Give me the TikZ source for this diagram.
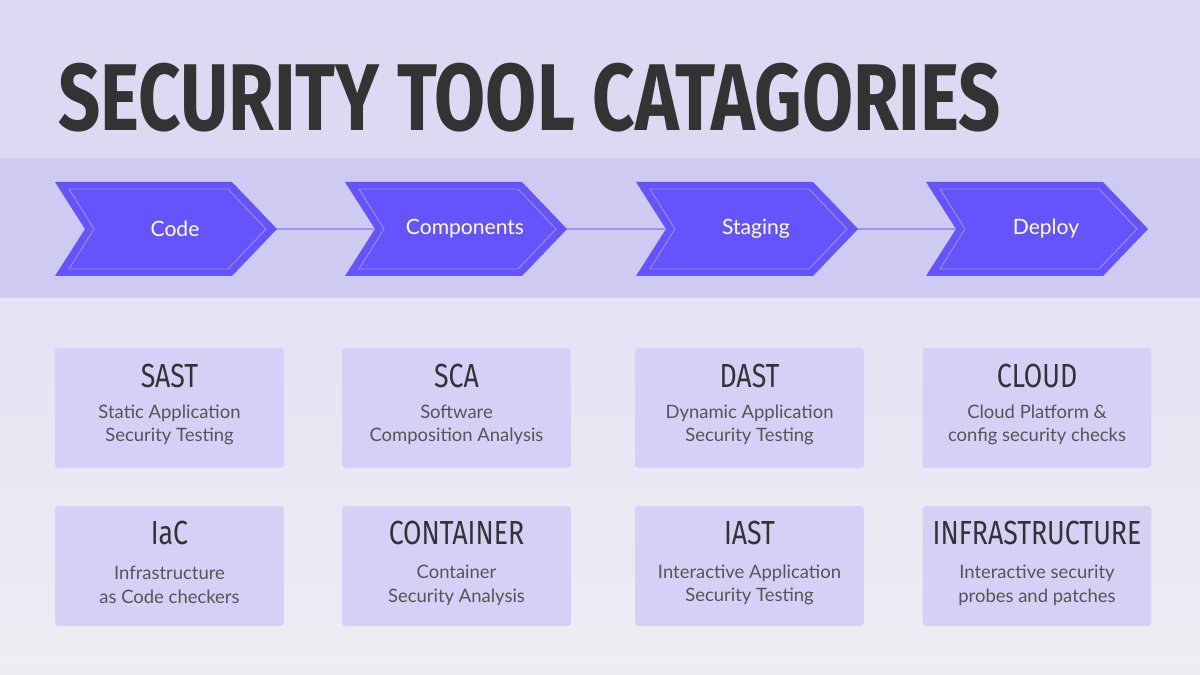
\documentclass[tikz,border=0pt]{standalone}
\usepackage{fontspec}
\setmainfont{Lato}
\newfontfamily\headfont{Fira Sans}
\usetikzlibrary{calc}
\definecolor{bgtop}{HTML}{DCD8F2}
\definecolor{bgmid}{HTML}{E4E2F3}
\definecolor{bgbot}{HTML}{EEEDF3}
\definecolor{band}{HTML}{CFCAF2}
\definecolor{chev}{HTML}{6554FC}
\definecolor{chevin}{HTML}{9C92FF}
\definecolor{card}{HTML}{D5D0F5}
\definecolor{ink}{HTML}{333333}
\definecolor{sub}{HTML}{555555}
\definecolor{link}{HTML}{9D94F0}
\tikzset{
  cardbox/.style={fill=card, rounded corners=2pt, minimum width=4.58cm, minimum height=2.4cm},
  ctitle/.style={text=ink, font=\headfont\fontsize{19}{20}\selectfont},
  cdesc/.style={text=sub, font=\fontsize{10.5}{13.5}\selectfont, align=center},
  chevtext/.style={text=white, font=\fontsize{12}{14}\selectfont},
  linkline/.style={draw=link, line width=1.2pt}
}
\newcommand{\chevron}[3]{%
  % #1 left x, #2 name, #3 label
  \fill[chev] (#1,-182) -- ++(177,0) -- ++(45,-47) -- ++(-45,-47) -- ++(-177,0) -- ++(30,47) -- cycle;
  \draw[chevin, line width=0.5pt] ($(#1,-182)+(14,-7)$) -- ++(159,0) -- ++(38,-40) -- ++(-38,-40) -- ++(-159,0) -- ++(25,40) -- cycle;
  \coordinate (#2L) at ($(#1,-229)+(30,0)$);
  \coordinate (#2R) at ($(#1,-229)+(222,0)$);
  \node[chevtext] (#2) at ($(#1,-229)+(120,0)$) {#3};
}
\begin{document}
\begin{tikzpicture}[x=0.02cm,y=0.02cm]
\useasboundingbox (0,0) rectangle (1200,-675);
\shade[top color=bgtop, bottom color=bgtop!85!bgmid] (0,0) rectangle (1200,-158);
\shade[top color=bgmid, bottom color=bgbot] (0,-298) rectangle (1200,-675);
\fill[band] (0,-158) rectangle (1200,-298);
\node[anchor=west, text=ink, inner sep=0] (title) at (58,-98)
  {\scalebox{0.78}[1]{\headfont\bfseries\fontsize{54}{60}\selectfont SECURITY TOOL CATAGORIES}};
\chevron{55}{code}{Code}
\chevron{345}{comp}{Components}
\chevron{636}{stag}{Staging}
\chevron{926}{depl}{Deploy}
\draw[linkline] (codeR) -- (compL);
\draw[linkline] (compR) -- (stagL);
\draw[linkline] (stagR) -- (deplL);
\foreach \x/\n/\t/\d in {
  169.5/sast/SAST/{Static Application\\Security Testing},
  456.5/sca/SCA/{Software\\Composition Analysis},
  749.5/dast/DAST/{Dynamic Application\\Security Testing},
  1037/cloud/CLOUD/{Cloud Platform \&\\config security checks}} {
  \node[cardbox] (\n) at (\x,-408) {};
  \node[ctitle] (\n T) at (\x,-376) {\scalebox{0.8}[1]{\t}};
  \node[cdesc] (\n D) at (\x,-425) {\d};
}
\foreach \x/\n/\t/\d in {
  169.5/iac/IaC/{Infrastructure\\as Code checkers},
  456.5/cont/CONTAINER/{Container\\Security Analysis},
  749.5/iast/IAST/{Interactive Application\\Security Testing},
  1037/infra/INFRASTRUCTURE/{Interactive security\\probes and patches}} {
  \node[cardbox] (\n) at (\x,-566) {};
  \node[ctitle] (\n T) at (\x,-533) {\scalebox{0.8}[1]{\t}};
  \node[cdesc] (\n D) at (\x,-585) {\d};
}
\end{tikzpicture}
\end{document}
